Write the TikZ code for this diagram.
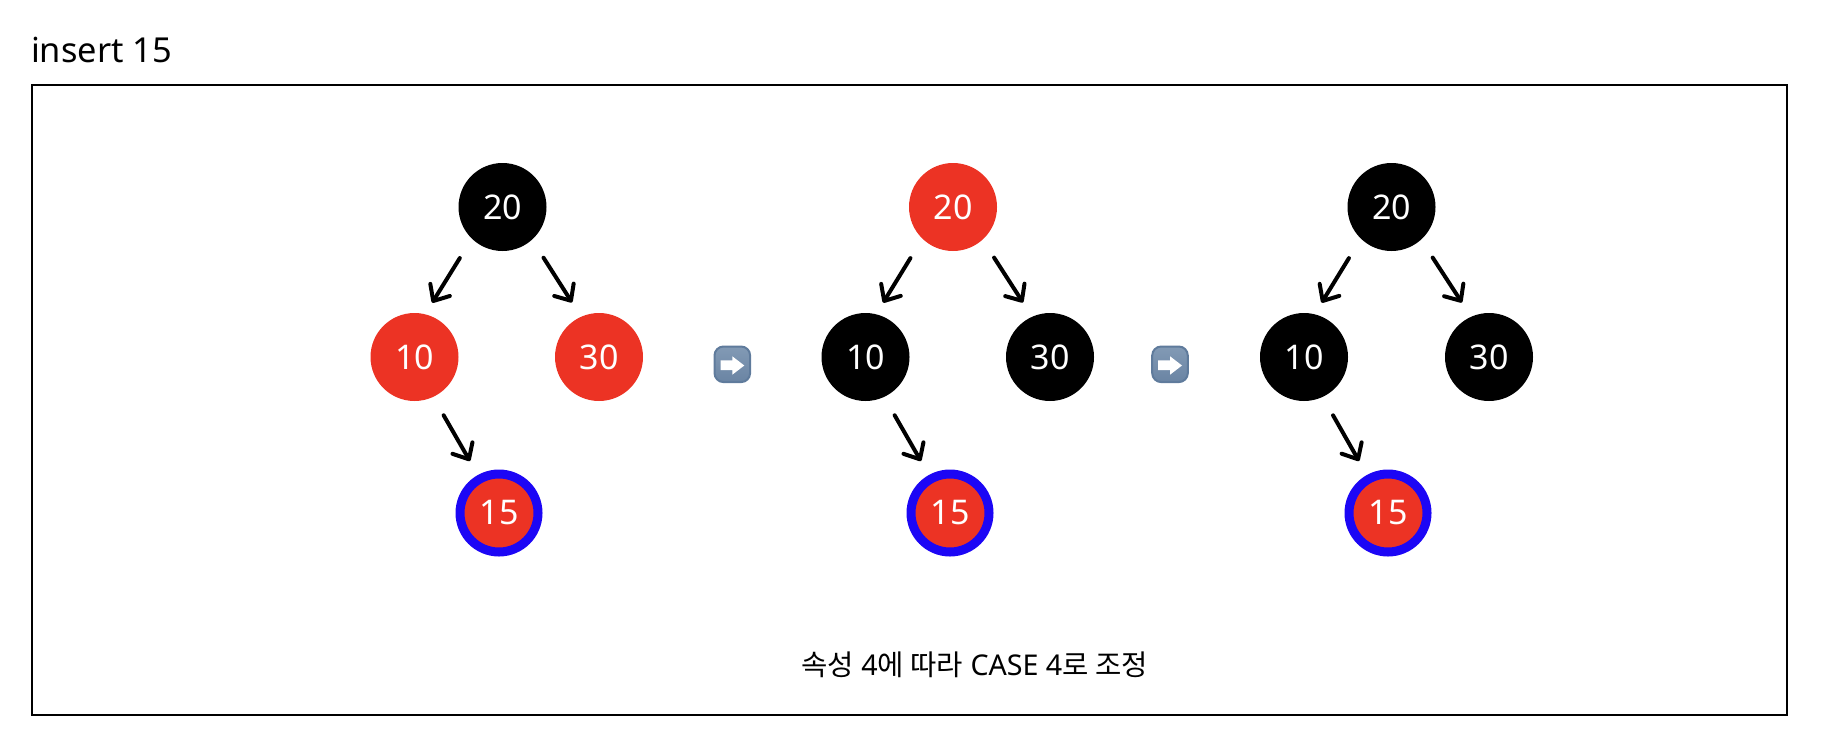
\documentclass[tikz,border=0pt]{standalone}
\usepackage{fontspec}
\setmainfont{Noto Sans}
\newfontfamily\krfont{Noto Sans CJK KR}
\usetikzlibrary{arrows.meta,calc}
\definecolor{nodered}{HTML}{EC3324}
\definecolor{ringblue}{HTML}{1C06F5}
\definecolor{emojitop}{HTML}{829AB5}
\definecolor{emojibot}{HTML}{6A84A3}
\definecolor{emojiedge}{HTML}{5F7B9C}
\tikzset{
  x=0.5pt,y=-0.5pt,
  blk/.style={circle,fill=black,text=white,inner sep=0pt,minimum size=44pt,font=\fontsize{17}{20}\selectfont},
  rednode/.style={blk,fill=nodered},
  ringnode/.style={circle,fill=nodered,draw=ringblue,line width=4.5pt,text=white,inner sep=0pt,minimum size=39pt,font=\fontsize{17}{20}\selectfont},
  conn/.style={draw=black,line width=2pt,line cap=round,-{Straight Barb[length=6.5pt,width=11.5pt,round,line width=2pt]}},
  frame/.style={draw=black,line width=1pt},
  emojibox/.style={rectangle,rounded corners=4.5pt,minimum size=17.8pt,inner sep=0pt,top color=emojitop,bottom color=emojibot,draw=emojiedge,line width=1pt},
  emojiarrow/.style={fill=white,draw=none},
}
\newcommand{\emojiat}[2]{%
  \node[emojibox] (#1) at #2 {};
  \fill[emojiarrow] ($(#1)+(-11.8,-4)$) -- ++(11.8,0) -- ++(0,-4) -- ++(12,9.2) -- ++(-12,9.2) -- ++(0,-4.6) -- ++(-11.8,0) -- cycle;
}
\newcommand{\treeedges}[1]{%
  \draw[conn,shorten <=11.25pt,shorten >=6.6pt] (#1r.-134) -- (#1l.76);
  \draw[conn,shorten <=10.5pt,shorten >=8.3pt] (#1r.-48.8) -- (#1g.114.6);
  \draw[conn,shorten <=10.4pt,shorten >=8pt] (#1l.-65.4) -- (#1c.119.7);
}
\begin{document}
\begin{tikzpicture}
\useasboundingbox (0,0) rectangle (1824,744);
\node[anchor=west,font=\fontsize{17.2}{20}\selectfont] (title) at (24,50) {insert 15};
\node[frame,rectangle,minimum width=877.5pt,minimum height=315pt,inner sep=0pt,anchor=north west] (box) at (31,84) {};
% tree 1
\node[blk] (ar) at (502.5,207) {20};
\node[rednode] (al) at (414.5,357) {10};
\node[rednode] (ag) at (599,357) {30};
\node[ringnode] (ac) at (499,513) {15};
\treeedges{a}
% tree 2
\node[rednode] (br) at (953,207) {20};
\node[blk] (bl) at (865.5,357) {10};
\node[blk] (bg) at (1050,357) {30};
\node[ringnode] (bc) at (950,513) {15};
\treeedges{b}
% tree 3
\node[blk] (cr) at (1391.5,207) {20};
\node[blk] (cl) at (1304,357) {10};
\node[blk] (cg) at (1489,357) {30};
\node[ringnode] (cc) at (1388,513) {15};
\treeedges{c}
\emojiat{ea}{(732.3,364.3)}
\emojiat{eb}{(1170,364.3)}
\node[font=\fontsize{14.3}{18}\selectfont] (caption) at (974.5,665) {{\krfont 속성} 4{\krfont 에 따라} CASE 4{\krfont 로 조정}};
\end{tikzpicture}
\end{document}
